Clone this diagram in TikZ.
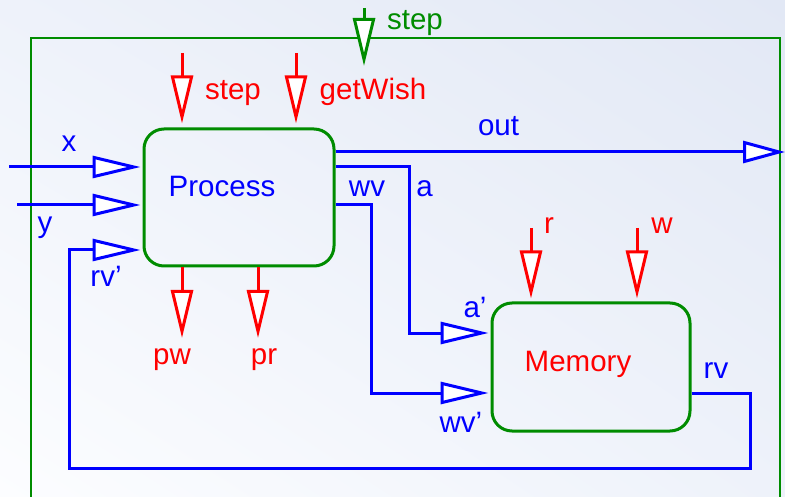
\documentclass[tikz,border=0pt]{standalone}
\usepackage{fontspec}
\setmainfont{Liberation Sans}
\usetikzlibrary{arrows.meta,calc,shadings}
\definecolor{dgreen}{RGB}{0,140,0}
\definecolor{bgA}{RGB}{226,232,245}
\definecolor{bgB}{RGB}{252,253,255}
\definecolor{bgC}{RGB}{238,242,250}
\begin{document}
\begin{tikzpicture}[x=1pt,y=-1pt,
  lbl/.style={anchor=base,inner sep=0pt,font=\fontsize{29.5}{34}\selectfont},
  blbl/.style={lbl,text=blue},
  rlbl/.style={lbl,text=red},
  glbl/.style={lbl,text=dgreen},
  unit/.style={draw=dgreen,line width=3pt,rounded corners=20pt,inner sep=0pt},
  bwire/.style={draw=blue,line width=3pt},
  barrow/.style={bwire,-{Triangle[length=48pt,width=22pt,fill=white]}},
  oarrow/.style={bwire,-{Triangle[length=42pt,width=22pt,fill=white]}},
  rarrow/.style={draw=red,line width=3pt,-{Triangle[length=48pt,width=22pt,fill=white]}},
  garrow/.style={draw=dgreen,line width=3pt,-{Triangle[length=48pt,width=22pt,fill=white]}},
]
\useasboundingbox (0,0) rectangle (785,497);
\shade[upper left=bgC,upper right=bgA,lower left=bgB,lower right=bgC] (0,0) rectangle (785,497);
% outer frame
\draw[dgreen,line width=1.3pt] (31,510) -- (31,38) -- (780,38) -- (780,510);

% boxes
\node[unit,minimum width=190pt,minimum height=137pt] (proc) at (239,197.5) {};
\node[blbl] (proct) at (222,197) {Process};
\node[unit,minimum width=198pt,minimum height=128pt] (mem) at (591,367) {};
\node[rlbl] (memt) at (578,371) {Memory};

% coordinates
\coordinate (xin) at (9,167);
\coordinate (yin) at (17,205);
\coordinate (outend) at (785,152);
\coordinate (aturn) at (409,167);
\coordinate (wvturn) at (371,205);
\coordinate (rvturn) at (750,393);
\coordinate (loopbot) at (69,468);
\coordinate (rvin) at (69,250);

% inputs to Process
\draw[barrow,shorten >=2pt] (xin) -- (proc.west |- xin);
\draw[barrow,shorten >=2pt] (yin) -- (proc.west |- yin);
\draw[barrow,shorten >=2pt] (mem.east |- rvturn) -- (rvturn) -- (rvturn |- loopbot) -- (loopbot) -- (rvin) -- (proc.west |- rvin);

% outputs of Process
\draw[oarrow] (proc.east |- outend) -- (outend);
\draw[barrow,shorten >=2pt] (proc.east |- aturn) -- (aturn) -- (aturn |- 0,333) -- (mem.west |- 0,333);
\draw[barrow,shorten >=2pt] (proc.east |- wvturn) -- (wvturn) -- (wvturn |- rvturn) -- (mem.west |- rvturn);

% red control arrows
\coordinate (s1) at (182,53);
\coordinate (s2) at (296,53);
\draw[rarrow,shorten >=4pt] (s1) -- (s1 |- proc.north);
\draw[rarrow,shorten >=4pt] (s2) -- (s2 |- proc.north);
\coordinate (pw) at (182,338);
\coordinate (pr) at (258,338);
\draw[rarrow] (pw |- proc.south) -- (pw);
\draw[rarrow] (pr |- proc.south) -- (pr);
\coordinate (rr) at (531,228);
\coordinate (ww) at (637,228);
\draw[rarrow,shorten >=3pt] (rr) -- (rr |- mem.north);
\draw[rarrow,shorten >=3pt] (ww) -- (ww |- mem.north);

% green step
\coordinate (gs) at (364,8);
\coordinate (gt) at (364,66);
\draw[garrow] (gs) -- (gt);

% labels
\node[blbl] at (69,152) {x};
\node[blbl] at (45,233) {y};
\node[blbl] at (106,287) {rv'};
\node[blbl] at (498.5,136) {out};
\node[blbl] at (367,197) {wv};
\node[blbl] at (424.5,197) {a};
\node[blbl] at (475,317) {a'};
\node[blbl] at (461,432) {wv'};
\node[blbl] at (716,378) {rv};
\node[rlbl] at (233,100) {step};
\node[rlbl] at (373,100) {getWish};
\node[rlbl] at (172,364) {pw};
\node[rlbl] at (264,364) {pr};
\node[rlbl] at (549,234) {r};
\node[rlbl] at (662,234) {w};
\node[glbl] at (415,30) {step};
\end{tikzpicture}
\end{document}
